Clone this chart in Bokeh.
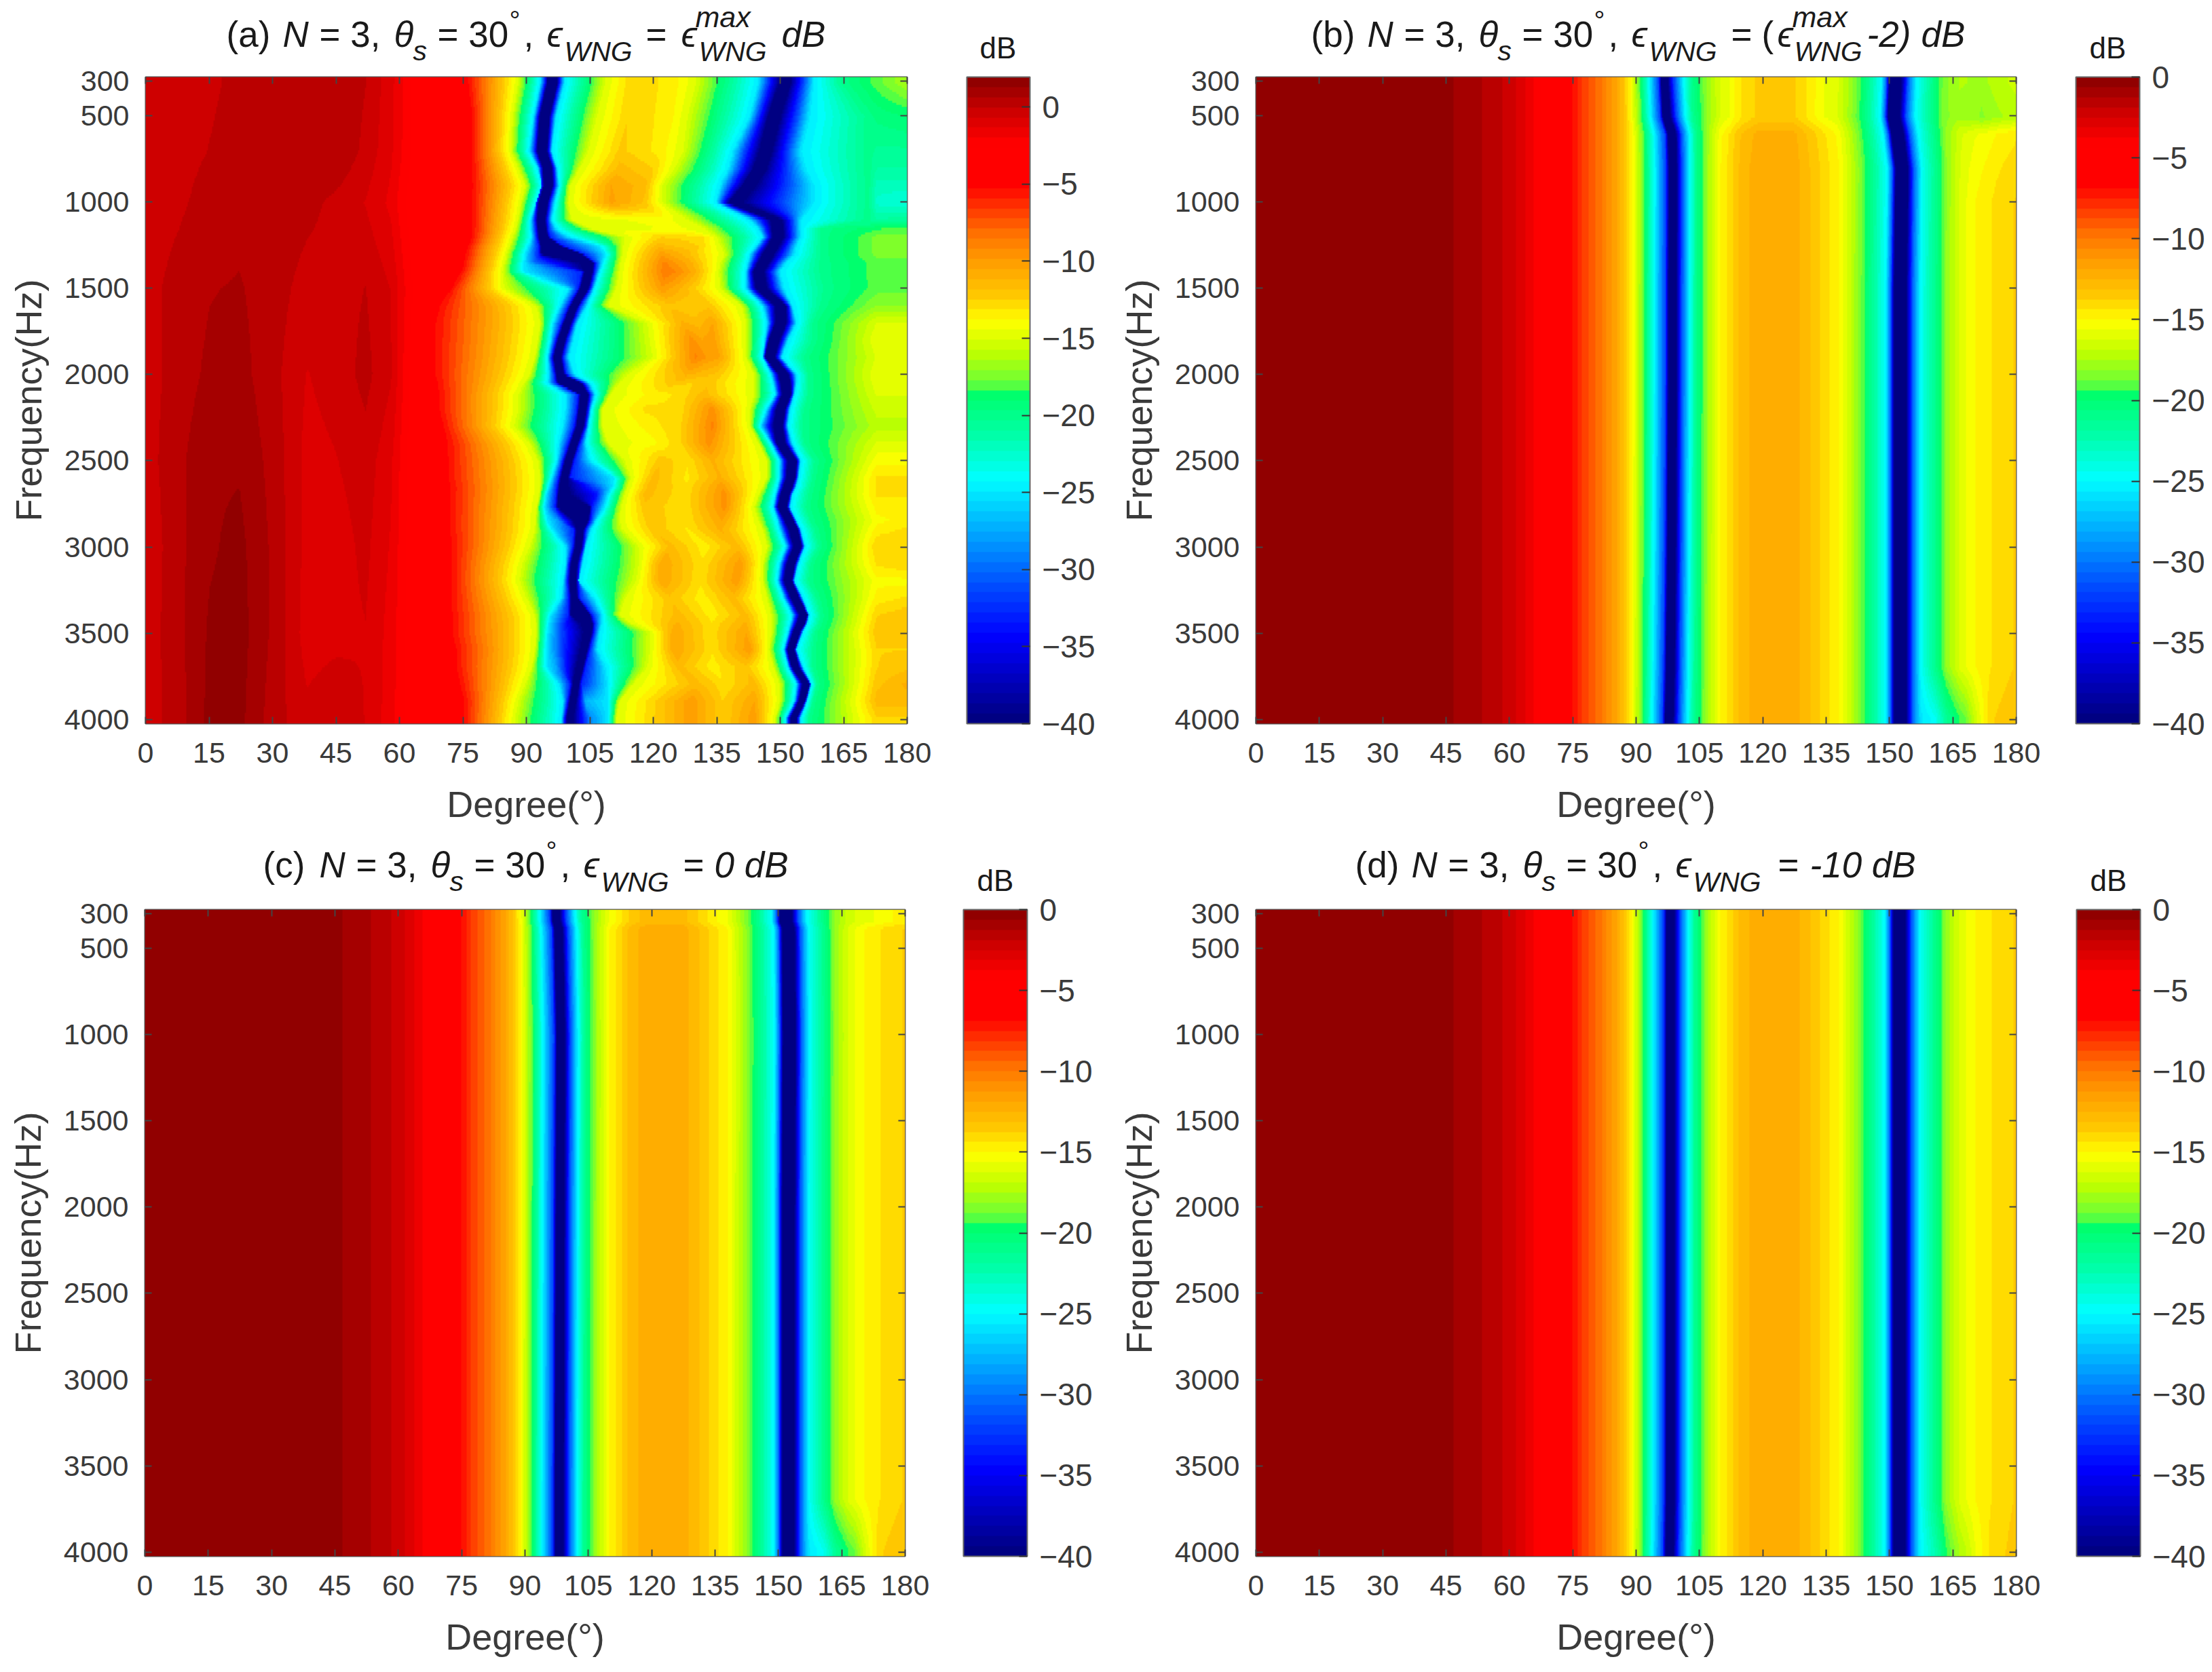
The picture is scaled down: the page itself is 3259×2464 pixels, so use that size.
import numpy as np
from bokeh.plotting import figure
from bokeh.layouts import column, row
from bokeh.models import ColorBar, FixedTicker, LinearAxis, LinearColorMapper
from bokeh.core.properties import value
from bokeh.embed import file_html
from bokeh.resources import INLINE

# ---------- shared tick labels ----------
degree_ticks = list(range(0, 181, 15))
freq_ticks = [300, 500, 1000, 1500, 2000, 2500, 3000, 3500, 4000]
db_ticks = [-40, -35, -30, -25, -20, -15, -10, -5, 0]

# ---------- colour scale (position 0..1, colour) ----------
cmap_pos = [0, .13, .212, .295, .377, .443, .517, .525, .574, .624, .665, .714, .756, .805, .838, .904, .953, 1]
cmap_r = [0, 0, 0, 0, 0, 0, 0, 100, 190, 255, 255, 255, 255, 255, 255, 255, 205, 145]
cmap_g = [0, 0, 80, 170, 255, 255, 255, 255, 255, 255, 200, 160, 120, 50, 0, 0, 0, 0]
cmap_b = [130, 255, 255, 255, 255, 170, 100, 60, 0, 0, 0, 0, 0, 0, 0, 0, 0, 0]

# ---------- panel (a): read row by row ----------
freq_a = [300, 500, 700, 800, 900, 1000, 1100, 1150, 1200, 1250, 1300, 1350, 1400, 1500, 1600, 1700, 1800, 1900, 2000,
          2050, 2115, 2200, 2300, 2400, 2500, 2600, 2650, 2700, 2770, 2850, 2900, 3000, 3100, 3200, 3300, 3400, 3450,
          3500, 3600, 3700, 3800, 3900, 4000]
# main lobe dB at fixed angles
main_angles_a = [0, 8, 15, 22, 30, 38, 45, 52, 58, 64]
main_freq_a = [300, 700, 1000, 1500, 2000, 2500, 3000, 3500, 4000]
main_db_a = [
    [-0.4, -0.3, -0.1, 0.1, 0.4, 0.6, 0.6, 0.0, -1.1, -3],
    [-0.4, -0.2, 0.0, 0.2, 0.5, 0.6, 0.6, -0.2, -1.2, -3],
    [-0.3, -0.1, 0.2, 0.4, 0.5, 0.2, -0.2, -0.7, -1.5, -3.5],
    [-0.2, 0.2, 0.6, 0.7, 0.3, -0.3, -0.3, 0.0, -0.7, -3],
    [-0.3, 0.3, 0.8, 0.9, 0.2, -0.7, -0.4, 0.2, -0.6, -3.5],
    [-0.3, 0.5, 1.2, 1.2, 0.4, -0.9, -0.7, -0.3, -1.2, -3.5],
    [-0.5, 0.5, 1.2, 1.5, 0.5, -0.9, -1.0, -0.5, -1.4, -3.5],
    [-0.4, 0.5, 1.4, 1.6, 0.5, -1.0, -0.9, -0.7, -1.6, -3.5],
    [-0.4, 0.4, 1.5, 1.5, 0.3, -0.5, -0.1, -0.7, -1.7, -3.5],
]
# angle of the -5 dB, -15 dB and -25 dB levels before the first null
deg_m5_a = [76, 77, 77, 77, 77, 77, 77, 77, 77, 76, 75.5, 75, 74.5, 72, 69, 68, 68, 68, 68, 68.5, 69, 69, 70, 71, 71,
            71, 71.5, 71.5, 71.5, 71.5, 71.5, 72, 72, 72, 72, 72, 72, 72, 73, 73, 74, 75, 75]
deg_m15_a = [88, 86.7, 86.3, 88, 89.7, 88.7, 88, 87.5, 86.7, 86, 85.3, 84.8, 84.3, 84.7, 92.3, 93.3, 92.7, 92, 90.7,
             89.5, 88, 88, 87, 90.7, 92.7, 93.3, 93.2, 93, 92.4, 92.1, 92, 90.7, 89, 88.3, 90, 92, 92.2, 92.3, 92,
             91.3, 89.7, 88, 87.3]
deg_m25_a = [93.3, 91.7, 90.7, 92.7, 93.7, 92.3, 91, 91, 91.3, 90.5, 89.7, 89.5, 89.3, 100, 98, 96.3, 95.7, 95, 95.3,
             95, 99.3, 99.3, 98.7, 97.7, 97.3, 96, 95.3, 94.7, 94.3, 95, 96, 99.3, 99.3, 98.7, 98.3, 95.7, 95.3, 95,
             94.7, 94.7, 97.7, 98.7, 98.3]
# first null: left and right edge of the -40 dB band
null1_left_a = [95, 93.2, 92.6, 94, 94.2, 93, 92.6, 92.8, 93, 93.5, 93.5, 103, 103.8, 102.8, 100.5, 98.9, 97.5, 96.5,
                97.2, 97.5, 102.8, 102.5, 101.9, 100.5, 99.2, 98.2, 97.8, 97.6, 97.4, 101.3, 101.9, 101.6, 100.6,
                100.3, 100.6, 100.5, 103.2, 103.8, 103, 102, 101, 100.3, 99.6]
null1_right_a = [97.3, 95.4, 94.8, 96, 96.2, 95, 94.4, 94.6, 95, 98, 103, 105.8, 105.6, 104.6, 102.1, 100.5, 99.1,
                 98.1, 98.8, 103, 104.6, 104.1, 103.5, 102.1, 100.8, 99.8, 99.6, 100, 105, 104.6, 103.5, 103, 102,
                 101.7, 102, 105, 105.6, 105.4, 104.4, 103.4, 102.4, 101.7, 101]
# blue side lobes of the first null: frequency -> (angle, dB)
null1_lobe_left_a = {1350: (92, -30), 2850: (97.5, -28), 3450: (99, -33), 3500: (97.5, -30), 3600: (97, -29),
                     3700: (97, -27.5)}
null1_lobe_right_a = {2650: (107, -30), 2700: (106.5, -34), 3900: (104, -27), 4000: (105, -29)}
# after the first null: -25 dB and -15 dB levels
deg_after25_a = [99, 97, 96, 97.3, 97.7, 96.7, 96, 97, 100, 107.3, 108.7, 108, 107.3, 106, 104.3, 102, 101, 100, 101.3,
                 105, 106.3, 105.3, 104.7, 104, 105, 110.7, 110.5, 109.3, 108.5, 106.5, 105.3, 104, 103.3, 102.3, 106,
                 108, 107.8, 107.3, 106.7, 108.7, 109.3, 109.3, 109.3]
deg_after15_a = [108.7, 106.7, 104.7, 102.7, 100.3, 100, 100.7, 105, 113.3, 113, 112.7, 112.3, 112, 111.3, 109.3,
                 118.7, 119.3, 120, 114, 112, 110, 108, 108, 109.3, 113.3, 114.7, 114, 113.3, 112.4, 112.2, 112.7,
                 116.7, 116.7, 116, 113.3, 112, 115, 119.3, 119.3, 118.7, 115.3, 112, 111.3]
# side lobe peaks between the nulls, and the dip between the two peaks
lobe1_deg_a = [115, 114, 112, 112, 110, 110, 112, 115, 122, 121, 122, 122.5, 123, 122, 124, 127, 129, 130, 128, 125,
               120, 118, 119, 120, 122, 120, 119, 118, 118, 119, 120, 124, 122, 122, 124, 126, 125.5, 125, 125, 126,
               130, 129, 129]
lobe1_db_a = [-12.5, -12.5, -12.3, -11.5, -10.5, -10.3, -14.5, -14.8, -12.5, -11.5, -10, -9, -8.5, -10, -12, -11,
              -9.5, -9, -11, -12, -13.5, -13, -13.5, -14, -12, -11.5, -11.5, -11.5, -12, -12, -12, -11.5, -10.5,
              -10.5, -12, -11.5, -11, -10.5, -10.5, -11.5, -11.5, -10, -10]
lobe_dip_db_a = [-13, -13, -12.8, -12, -11, -11, -14.3, -14.5, -12.7, -12, -10.8, -10, -9.5, -11, -12.5, -11.5, -10.5,
                 -10, -11.5, -12.5, -13, -13, -12.5, -12.5, -13, -13.3, -13, -13, -13, -13, -13.2, -13.5, -13, -13,
                 -13.5, -13.5, -13, -13, -13, -13.5, -13, -12.5, -12.5]
lobe2_deg_a = [125, 124, 122, 120, 118, 118, 122, 125, 132, 131, 128, 129, 130, 130, 133, 134, 134, 136, 135, 133,
               132, 134, 134, 133, 134, 136, 136.5, 137, 137, 136.5, 136, 140, 141, 140, 139, 142, 142, 142, 143, 142,
               144, 144, 144]
lobe2_db_a = [-13.5, -13.5, -13.5, -12.5, -11.5, -12, -14, -14.2, -13, -12.5, -11.5, -11, -11, -12.5, -12, -10.5, -10,
              -10.5, -12, -12, -11.5, -9.5, -9, -9.5, -11, -11, -10, -9.5, -9.5, -10.5, -11, -11.5, -10, -10, -11.5,
              -11.5, -11, -10.5, -10, -12, -11.5, -10.5, -10]
# second null: -15 dB, -25 dB, centre, half width, -25 dB, -20 dB, dB at 173 deg, dB at 180 deg
null2_table_a = [
    (130, 145, 151.3, 1.2, 158, 165, -18, -16.5), (128, 143, 148.7, 1.3, 157, 171, -19.5, -19),
    (127, 139, 146.7, 1.3, 155, 171, -20.5, -20.5), (125, 138, 145.3, 1.3, 156, 171, -21, -21),
    (122, 136, 142.7, 1.3, 158, 171, -22, -22), (122, 135, 139.3, 1.4, 158, 171, -22.5, -23),
    (128, 143, 149.3, 1.2, 155, 171, -21, -20.5), (132, 145, 149.5, 1.2, 155, 160, -18.5, -18),
    (135, 146, 149.7, 1.2, 155, 160, -17.5, -17.5), (136, 144.5, 148.5, 1.2, 154, 160, -17.5, -17.5),
    (137, 143, 147.3, 1.2, 153.5, 160, -17.5, -17.5), (136, 142.5, 146.2, 1.2, 151.5, 160, -18, -18),
    (135.5, 142, 145, 1.2, 150, 160, -18, -18), (136, 142, 145.7, 1.2, 151, 161, -18, -18),
    (141, 146, 150.3, 1.2, 153, 160, -17, -17), (142, 147, 150.3, 1.2, 154, 158, -15, -15),
    (142, 146.5, 148.7, 1.2, 152, 158, -14.5, -14.5), (142, 146, 147.7, 1.1, 150.5, 156, -15, -15),
    (144, 148, 151, 1.1, 154, 157, -14.5, -14.5), (144, 148.5, 151.4, 1.1, 154, 157, -14.7, -14.7),
    (144, 149, 151.7, 1, 153.5, 157, -15, -15), (143, 147, 150.3, 1, 152.5, 156, -15.5, -15.5),
    (143, 145.5, 149.7, 1, 152, 155.5, -16, -16), (145, 148, 150.3, 1, 153, 156, -15, -15),
    (147, 150, 153, 1, 155, 158.5, -14, -14), (147, 150, 152.7, 1, 154.5, 158, -13, -13),
    (146, 149.5, 152, 1, 154, 157.5, -13, -13), (145, 149, 151.3, 1, 153, 157, -13, -13),
    (144, 148.5, 150.7, 1, 152.5, 156.5, -13.5, -13.5), (145, 149.5, 152.3, 1, 154, 157.5, -14, -13.5),
    (146, 150, 153.3, 1, 155, 158.5, -13.5, -13), (147, 151.5, 154.3, .9, 156, 159.5, -12.5, -12.5),
    (146, 150, 152.7, .9, 154.5, 157.5, -13, -12.5), (146, 149.5, 152, .9, 153.5, 157, -14, -14),
    (147, 151, 153.7, .9, 155.5, 159, -13.5, -13), (148, 153, 155.7, .9, 157, 160, -12.5, -12),
    (148, 152.5, 155, .9, 156.5, 159.5, -12.2, -12), (148, 152, 154, .8, 155.5, 158.5, -12, -12),
    (147.5, 151, 152.7, .8, 154, 158, -12.5, -12.5), (148.5, 152, 153.7, .8, 155.5, 158, -12.5, -12),
    (150, 154, 156.3, .8, 157.5, 159, -12, -11), (150, 153.5, 155.3, .7, 156.5, 158, -11.5, -11.5),
    (149, 151.5, 153.3, .7, 155, 157, -12.5, -12.5),
]

# ---------- panels (b), (c), (d): common angular profile ----------
profile_deg = [0, 40, 46.4, 54, 60.6, 64.8, 74.8, 77, 81.5, 84.8, 87, 89, 90.6, 91.5, 94, 96.5, 97.2, 99, 100.3, 102.3,
               104, 107, 110, 115, 119.4, 127, 133.4, 138, 141, 143.6, 146, 149, 150.2, 151, 153.8, 155.3, 157.2, 160,
               162, 163.6, 167, 170.5, 175.4, 180]
profile_db = [-0.2, -0.3, -0.6, -1.3, -2.2, -3.5, -6.8, -8, -9.8, -11.5, -13, -15, -17.5, -19, -25, -32, -40, -40, -32,
              -25, -21, -17.5, -15, -12.9, -12, -12, -13.7, -15, -17, -19, -21.5, -25, -31, -40, -40, -31, -25,
              -22, -19.8, -18, -16, -15, -14.2, -13.7]
# row changes: shift of each null (deg) and dB change of the middle lobes, shoulder and tail
freq_b = [300, 500, 600, 800, 1000, 1500, 2000, 3000, 3700, 4000]
null1_shift_b = [-1.5, -1, .4, .6, .6, .5, .5, .3, 0, -.3]
null2_shift_b = [-1.0, -1.4, -.5, .6, .5, .2, .2, .2, .2, .2]
mid_db_b = [-1.5, -1.5, -.2, 0, 0, 0, 0, 0, 0, 0]
shoulder_db_b = [0, 0, 0, 0, 0, 0, 0, 0, 0, -3.5]
tail_db_b = [-3, -3.5, -.8, -.3, 0, 0, 0, 0, 0, .5]
freq_c = [300, 340, 380, 1000, 2000, 3000, 3700, 4000]
null1_shift_c = [-.8, -.7, -.2, .4, .2, .1, 0, 0]
null2_shift_c = [-.6, -.6, 0, .2, 0, 0, 0, 0]
mid_db_c = [-.7, -.7, 0, 0, 0, 0, 0, 0]
shoulder_db_c = [0, 0, 0, 0, 0, 0, 0, -3.5]
tail_db_c = [-1, -1, 0, 0, 0, 0, 0, .5]
freq_d = [300, 1000, 2000, 3000, 3700, 4000]
null1_shift_d = [0, 0, 0, 0, 0, -.2]
null2_shift_d = [0, 0, 0, 0, 0, 0]
mid_db_d = [0, 0, 0, 0, 0, 0]
shoulder_db_d = [0, 0, 0, 0, 0, -1.5]
tail_db_d = [0, 0, 0, 0, 0, .2]

FONT = "Liberation Sans"
INK = "#3a3a3a"
TITLE_INK = "#1a1a1a"
tgrid = np.linspace(0, 180, 562)
fgrid = np.linspace(275, 4025, 300)


def render_mesh(freqs, thetas, dbs):
    """Shade between the read knots, along the ridges, for the image glyph."""
    th = np.array([np.interp(fgrid, freqs, thetas[:, k]) for k in range(thetas.shape[1])]).T
    db = np.array([np.interp(fgrid, freqs, dbs[:, k]) for k in range(dbs.shape[1])]).T
    out = np.zeros((len(fgrid), len(tgrid)))
    for i in range(len(fgrid)):
        t = np.maximum.accumulate(th[i] + np.arange(th.shape[1]) * 1e-4)
        out[i] = np.interp(tgrid, t, db[i])
    return out


def build_a():
    fr = np.array(freq_a, float)
    main = np.array(main_db_a, float)
    n = len(fr)
    main_i = np.array([np.interp(fr, main_freq_a, main[:, k]) for k in range(main.shape[1])]).T
    nt = np.array(null2_table_a, float)
    nl, nr = np.array(null1_left_a), np.array(null1_right_a)
    ll_t = nl - .6
    ll_d = np.full(n, -33.0)
    lr_t = nr + .6
    lr_d = np.full(n, -33.0)
    for i, f in enumerate(freq_a):
        if f in null1_lobe_left_a:
            ll_t[i], ll_d[i] = null1_lobe_left_a[f]
        if f in null1_lobe_right_a:
            lr_t[i], lr_d[i] = null1_lobe_right_a[f]
    k = lambda v: np.full(n, float(v))
    dip_t = (np.array(lobe1_deg_a) + np.array(lobe2_deg_a)) / 2
    thetas = np.column_stack([np.tile(main_angles_a, (n, 1)), deg_m5_a, deg_m15_a, deg_m25_a, ll_t, nl, nr, lr_t,
                              deg_after25_a, deg_after15_a, lobe1_deg_a, dip_t, lobe2_deg_a, nt[:, 0], nt[:, 1],
                              nt[:, 2] - nt[:, 3], nt[:, 2] + nt[:, 3], nt[:, 4], nt[:, 5], k(173), k(180)])
    dbs = np.column_stack([main_i, k(-5), k(-15), k(-25), ll_d, k(-40), k(-40), lr_d, k(-25), k(-15), lobe1_db_a,
                           lobe_dip_db_a, lobe2_db_a, k(-15), k(-25), k(-40), k(-40), k(-25), k(-20), nt[:, 6],
                           nt[:, 7]])
    return render_mesh(fr, thetas, dbs)


def build_vertical(freqs, s1, s2, mid, sh, tail):
    out = np.zeros((len(fgrid), len(tgrid)))
    for i, f in enumerate(fgrid):
        a = np.interp(f, freqs, s1)
        b = np.interp(f, freqs, s2)
        shift = np.interp(tgrid, [0, 86, 98, 110, 130, 152.4, 170, 180], [0, 0, a, 0, 0, b, 0, 0])
        v = np.interp(tgrid - shift, profile_deg, profile_db)
        v = v + np.interp(f, freqs, mid) * np.interp(tgrid, [103, 112, 135, 144], [0, 1, 1, 0])
        v = v + np.interp(f, freqs, sh) * np.interp(tgrid, [156, 161, 168, 174], [0, 1, 1, 0])
        v = v + np.interp(f, freqs, tail) * np.interp(tgrid, [162, 172, 180], [0, 1, 1])
        out[i] = v
    return out


pos = np.linspace(0, 1, 64)
palette = ["#%02x%02x%02x" % (int(round(np.interp(q, cmap_pos, cmap_r))), int(round(np.interp(q, cmap_pos, cmap_g))),
                              int(round(np.interp(q, cmap_pos, cmap_b)))) for q in pos]


def strip(height):
    """A text-only band above a row of panels; its data units are page pixels."""
    s = figure(width=3259, height=height, output_backend="svg", toolbar_location=None, x_range=(0, 3259),
               y_range=(height, 0), x_axis_type=None, y_axis_type=None, outline_line_color=None,
               min_border=0, min_border_left=0, min_border_right=0, min_border_top=0, min_border_bottom=0)
    s.grid.visible = False
    return s


def put(s, top, text, x, y, size, italic=False, align="left"):
    s.text(x=[x], y=[y - top - 0.33 * size], text=[text], text_font=value(FONT), text_font_size=value(f"{size}px"),
           text_font_style="italic" if italic else "normal", text_color=TITLE_INK, text_align=align,
           text_baseline="alphabetic")


def title(s, top, x0, base, tag, suffix):
    pieces = [(tag, 0, 0, 53, False), ("N", 83, 0, 53, True), ("= 3,", 137, 0, 53, False), ("\u03b8", 247, 0, 53, True),
              ("s", 275, 21, 41, True), ("= 30", 311, 0, 53, False), ("\u00b0", 417, -24, 40, False),
              (",", 438, 0, 53, False), ("\u03f5", 472, 0, 53, True), ("WNG", 498, 22, 41, True)] + suffix
    for t, dx, dy, size, it in pieces:
        put(s, top, t, x0 + dx, base + dy, size, it)


def panel(data, high, fig_left, fig_top, fig_w, fig_h, fl, fr, ft, fb, cb_l, cb_r):
    p = figure(width=fig_w, height=fig_h, output_backend="svg", toolbar_location=None,
               x_range=(0, 180), y_range=(4025, 275), frame_width=fr - fl, frame_height=fb - ft,
               min_border_left=fl - fig_left, min_border_right=fig_left + fig_w - fr,
               min_border_top=ft - fig_top, min_border_bottom=fig_top + fig_h - fb,
               x_axis_label="Degree(\u00b0)", y_axis_label="Frequency(Hz)", background_fill_color="white",
               border_fill_color=None, outline_line_color="#555555", outline_line_width=2)
    p.grid.visible = False
    mapper = LinearColorMapper(palette=palette, low=-40, high=high)
    p.image(image=[data], x=0, y=275, dw=180, dh=3750, color_mapper=mapper)
    for ax, ticks in ((p.xaxis[0], degree_ticks), (p.yaxis[0], freq_ticks)):
        ax.ticker = FixedTicker(ticks=ticks)
        ax.major_tick_in = 10
        ax.major_tick_out = 0
        ax.minor_tick_line_color = None
        ax.major_tick_line_color = "#444444"
        ax.major_tick_line_width = 2
        ax.axis_line_color = None
        ax.major_label_text_font = FONT
        ax.major_label_text_font_size = "43px"
        ax.major_label_text_color = INK
        ax.axis_label_text_font = FONT
        ax.axis_label_text_font_size = "54px"
        ax.axis_label_text_font_style = "normal"
        ax.axis_label_text_color = INK
    p.xaxis[0].major_label_standoff = 28
    p.xaxis[0].axis_label_standoff = 28
    p.yaxis[0].major_label_standoff = 24
    p.yaxis[0].axis_label_standoff = 20
    top = LinearAxis(ticker=FixedTicker(ticks=degree_ticks), major_tick_in=10, major_tick_out=0,
                     minor_tick_line_color=None, major_tick_line_color="#444444", major_tick_line_width=2,
                     axis_line_color=None, major_label_overrides={t: "" for t in degree_ticks}, major_label_standoff=0)
    right = LinearAxis(ticker=FixedTicker(ticks=freq_ticks), major_tick_in=10, major_tick_out=0,
                       minor_tick_line_color=None, major_tick_line_color="#444444", major_tick_line_width=2,
                       axis_line_color=None, major_label_overrides={t: "" for t in freq_ticks}, major_label_standoff=0)
    p.add_layout(top, "above")
    p.add_layout(right, "right")
    overrides = {t: ("\u2212" + str(-t) if t < 0 else str(t)) for t in db_ticks}
    cb = ColorBar(color_mapper=mapper, ticker=FixedTicker(ticks=db_ticks), major_label_overrides=overrides,
                  width=cb_r - cb_l, height=fb - ft, location=(cb_l - fl, 0), padding=0, margin=0,
                  major_tick_in=12, major_tick_out=0, major_tick_line_color="#333333", major_tick_line_width=2,
                  minor_tick_line_color=None, bar_line_color="#666666", bar_line_width=2,
                  major_label_text_font=FONT, major_label_text_font_size="46px", major_label_text_color=INK,
                  label_standoff=18, background_fill_color=None, border_line_color=None)
    p.add_layout(cb)
    return p


suffix_a = [("=", 618, 0, 53, False), ("\u03f5", 670, 0, 53, True), ("max", 691, -28, 43, True),
            ("WNG", 696, 22, 41, True), ("dB", 818, 0, 53, True)]
suffix_b = [("=", 619, 0, 53, False), ("(", 664, 0, 53, False), ("\u03f5", 687, 0, 53, True),
            ("max", 709, -28, 43, True), ("WNG", 712, 22, 41, True), ("-2)", 819, 0, 53, True),
            ("dB", 899, 0, 53, True)]
suffix_c = [("=", 619, 0, 53, False), ("0 dB", 665, 0, 53, True)]
suffix_d = [("=", 623, 0, 53, False), ("-10 dB", 670, 0, 53, True)]

ROW1_H = 108
ROW2_TOP = 1225
ROW2_H = 110
OVER = 40  # the panels' transparent top margin lies over the text band
head1 = strip(ROW1_H)
title(head1, 0, 333, 67, "(a)", suffix_a)
title(head1, 0, 1931, 67, "(b)", suffix_b)
put(head1, 0, "dB", 1470, 85, 44, False, "center")
put(head1, 0, "dB", 3105, 85, 44, False, "center")
head2 = strip(ROW2_H)
title(head2, ROW2_TOP, 387, 1291, "(c)", suffix_c)
title(head2, ROW2_TOP, 1996, 1291, "(d)", suffix_d)
put(head2, ROW2_TOP, "dB", 1466, 1312, 44, False, "center")
put(head2, ROW2_TOP, "dB", 3106, 1312, 44, False, "center")

top1 = ROW1_H - OVER
top2 = ROW2_TOP + ROW2_H - OVER
pa = panel(build_a(), 1.95, 0, top1, 1630, ROW2_TOP - top1, 214, 1336, 113, 1066, 1424, 1517)
pb = panel(build_vertical(freq_b, null1_shift_b, null2_shift_b, mid_db_b, shoulder_db_b, tail_db_b), 0,
           1630, top1, 1629, ROW2_TOP - top1, 1850, 2970, 113, 1066, 3058, 3152)
pc = panel(build_vertical(freq_c, null1_shift_c, null2_shift_c, mid_db_c, shoulder_db_c, tail_db_c), 0,
           0, top2, 1630, 2464 - top2, 213, 1333, 1340, 2293, 1419, 1513)
pd_ = panel(build_vertical(freq_d, null1_shift_d, null2_shift_d, mid_db_d, shoulder_db_d, tail_db_d), 0,
            1630, top2, 1629, 2464 - top2, 1850, 2970, 1340, 2293, 3059, 3153)

layout = column(head1, row(pa, pb, spacing=0, margin=(-OVER, 0, 0, 0)), head2,
                row(pc, pd_, spacing=0, margin=(-OVER, 0, 0, 0)), spacing=0)
open("out.html", "w").write(file_html(layout, INLINE))
